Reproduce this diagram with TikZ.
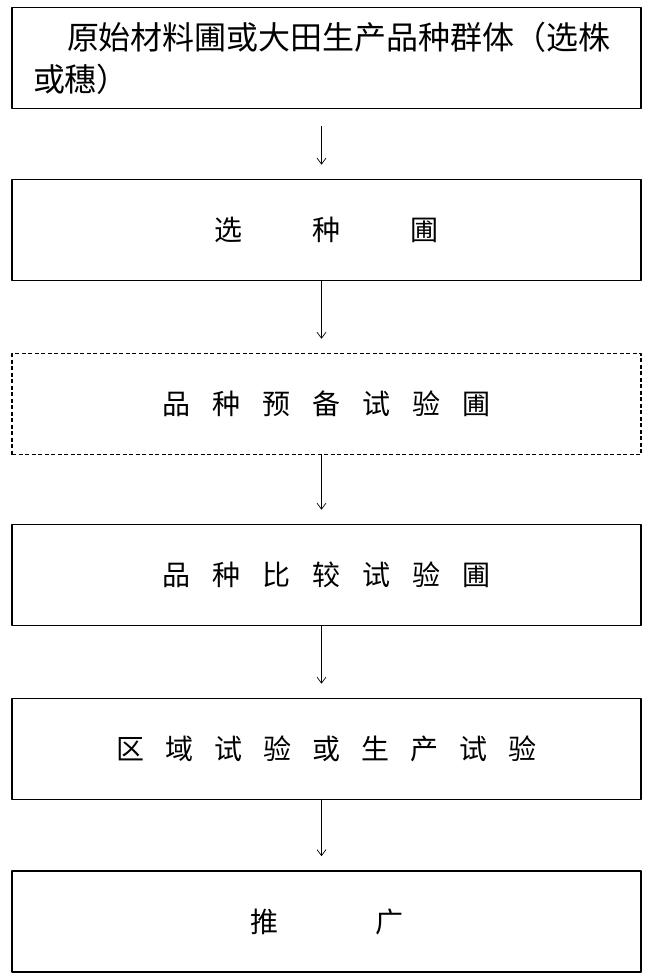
\documentclass[tikz,border=0pt]{standalone}
\usepackage{fontspec}
\newfontfamily\cjk{Noto Sans CJK SC}
\usetikzlibrary{arrows.meta}
\newcommand{\gp}{\hspace{22pt}}
\newcommand{\gq}{\hspace{21pt}}
\begin{document}
\begin{tikzpicture}[x=1pt,y=-1pt,>={Straight Barb[length=6pt,width=9pt]},line join=round,font=\cjk\fontsize{28}{34}\selectfont,
	box/.style={draw,line width=1.6pt,minimum width=629pt,minimum height=101pt,inner sep=0pt},
	arr/.style={->,line width=0.7pt,shorten >=14pt,transform canvas={xshift=-5pt}}]
	\useasboundingbox (0,0) rectangle (652,978);
	\node[box,align=left,text width=587pt,font=\cjk\fontsize{32}{42}\selectfont] (b1) at (326.5,58) {\hspace*{34pt}原始材料圃或大田生产品种群体（选株\\或穗）};
	\node[box] (b2) at (326.5,230) {选\hspace{70pt}种\hspace{70pt}圃};
	\node[box,dash pattern=on 4pt off 2.5pt,line width=1.4pt] (b3) at (326.5,404) {品\gp 种\gp 预\gp 备\gp 试\gp 验\gp 圃};
	\node[box] (b4) at (326.5,575) {品\gp 种\gp 比\gp 较\gp 试\gp 验\gp 圃};
	\node[box] (b5) at (326.5,749) {区\gq 域\gq 试\gq 验\gq 或\gq 生\gq 产\gq 试\gq 验};
	\node[box] (b6) at (326.5,921.5) {推\hspace{97pt}广};
	\draw[arr,shorten <=17pt] (b1) -- (b2);
	\draw[arr] (b2) -- (b3);
	\draw[arr] (b3) -- (b4);
	\draw[arr] (b4) -- (b5);
	\draw[arr] (b5) -- (b6);
\end{tikzpicture}
\end{document}
